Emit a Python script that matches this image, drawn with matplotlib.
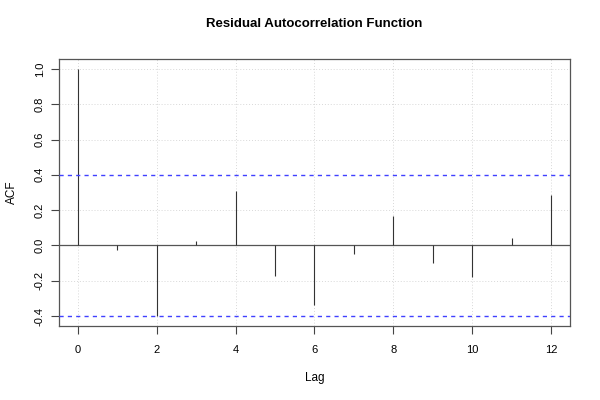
import numpy as np
import matplotlib
matplotlib.use('Agg')
import matplotlib.pyplot as plt

# Residual ACF values
lags = [0, 1, 2, 3, 4, 5, 6, 7, 8, 9, 10, 11, 12]
acf = [1.0, -0.028, -0.40, 0.023, 0.31, -0.174, -0.336, -0.049, 0.168, -0.102, -0.177, 0.04, 0.285]
conf = 0.40
xticks = [0, 2, 4, 6, 8, 10, 12]
yticks = [-0.4, -0.2, 0.0, 0.2, 0.4, 0.6, 0.8, 1.0]

plt.rcParams['font.family'] = ['Liberation Sans', 'DejaVu Sans']

fig = plt.figure(figsize=(6, 4), dpi=100)
ax = fig.add_axes([0.098, 0.185, 0.852, 0.6675])

# grid
for x in xticks:
    ax.axvline(x, color='#d8d8d8', linestyle=(0, (1, 2)), linewidth=0.7, zorder=0)
for y in yticks:
    if abs(y) != conf:
        ax.axhline(y, color='#d8d8d8', linestyle=(0, (1, 2)), linewidth=0.7, zorder=0)

ax.axhline(0, color='#555555', linewidth=0.9, zorder=1)
ax.vlines(lags, 0, acf, color='#333333', linewidth=0.8, zorder=2)
for c in (conf, -conf):
    ax.axhline(c, color='#4040ff', linestyle=(0, (3, 3)), linewidth=1.0, zorder=3, snap=True)

ax.set_xlim(-0.48, 12.48)
ax.set_ylim(-0.456, 1.056)
ax.set_xticks(xticks)
ax.set_yticks(yticks)
ax.set_yticklabels(['%.1f' % v for v in yticks], rotation=90, va='center')
ax.tick_params(direction='out', length=6, width=0.8, colors='#444444', labelcolor='black', labelsize=8)
ax.tick_params(axis='x', pad=8)
ax.tick_params(axis='y', pad=4)
for s in ax.spines.values():
    s.set_color('#555555')
    s.set_linewidth(0.9)

ax.set_title('Residual Autocorrelation Function', fontsize=9.5, fontweight='bold', pad=23)
ax.set_xlabel('Lag', fontsize=8.5, labelpad=12)
ax.set_ylabel('ACF', fontsize=8.5, labelpad=12)

fig.savefig('out.png', dpi=100)
